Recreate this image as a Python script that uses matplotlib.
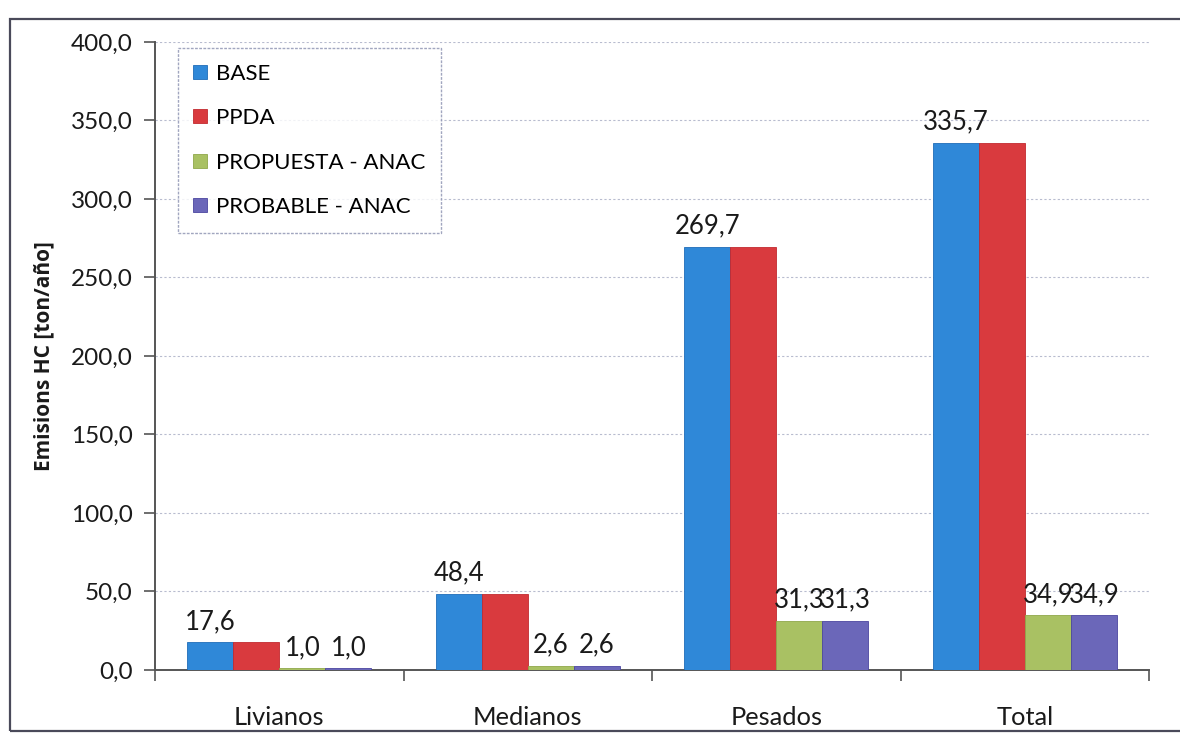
import matplotlib
matplotlib.use('Agg')
import matplotlib.pyplot as plt
import numpy as np
from matplotlib.patches import Rectangle

plt.rcParams['font.family'] = ['Lato', 'DejaVu Sans']

# categories and series (ton/año)
categories = ['Livianos', 'Medianos', 'Pesados', 'Total']
series_names = ['BASE', 'PPDA', 'PROPUESTA - ANAC', 'PROBABLE - ANAC']
base = [17.6, 48.4, 269.7, 335.7]
ppda = [17.6, 48.4, 269.7, 335.7]
propuesta = [1.0, 2.6, 31.3, 34.9]
probable = [1.0, 2.6, 31.3, 34.9]
# which series carry value labels
labelled = [True, False, True, True]

colors = ['#2f88d8', '#d93a3e', '#a9c163', '#6b67b9']
edges = ['#1f6cb8', '#c22a30', '#8fa84a', '#4b46a0']

fig = plt.figure(figsize=(11.8, 7.34), dpi=100)
ax = fig.add_axes([0.1314, 0.0872, 0.8424, 0.8556])

# outer chart frame
fig.patches.append(Rectangle((10 / 1180, 3 / 734), 1.2, 1 - 22 / 734,
                             transform=fig.transFigure, fill=False,
                             edgecolor='#4a4a5a', linewidth=1.6, zorder=0))

x = np.arange(len(categories)) + 0.5
w = 0.185
data = [base, ppda, propuesta, probable]
for i, (vals, name) in enumerate(zip(data, series_names)):
    pos = x + (i - 1.5) * w
    ax.bar(pos, vals, width=w, color=colors[i], edgecolor=edges[i],
           linewidth=0.6, label=name, zorder=3)
    if labelled[i]:
        for px, v in zip(pos, vals):
            ax.annotate(f'{v:.1f}'.replace('.', ','), (px, v),
                        xytext=(0, 6), textcoords='offset points',
                        ha='center', va='bottom', fontsize=18.5,
                        color='#1a1a1a', zorder=4)

ax.set_xlim(0, 4)
ax.set_ylim(0, 400)
ax.set_yticks(np.arange(0, 401, 50))
ax.set_yticklabels([f'{t:.1f}'.replace('.', ',') for t in np.arange(0, 401, 50)],
                   fontsize=17.5, color='#1a1a1a')
ax.yaxis.grid(True, color='#b8bccf', linestyle=(0, (2, 2)), linewidth=0.8, zorder=0)

# category boundaries as ticks, names as minor labels
ax.set_xticks(np.arange(0, 5))
ax.set_xticklabels([])
ax.set_xticks(x, minor=True)
ax.set_xticklabels(categories, minor=True, fontsize=18.3, color='#1a1a1a')
ax.tick_params(axis='x', which='minor', length=0, pad=26)
ax.tick_params(axis='x', which='major', length=8, width=1.2, color='#555555')
ax.tick_params(axis='y', length=8, width=1.2, color='#555555', pad=8)

for s in ['top', 'right']:
    ax.spines[s].set_visible(False)
for s in ['left', 'bottom']:
    ax.spines[s].set_color('#555555')
    ax.spines[s].set_linewidth(1.4)

ax.set_ylabel('Emisions HC [ton/año]', fontsize=15, fontweight='bold',
              family=['Open Sans', 'DejaVu Sans'], color='#1a1a1a', labelpad=12)

leg = ax.legend(loc='upper left', bbox_to_anchor=(0.023, 0.99), fontsize=16,
                frameon=True, fancybox=False, handlelength=0.6, handleheight=0.6,
                handletextpad=0.4, labelspacing=1.1, borderpad=0.7,
                borderaxespad=0)
leg.get_frame().set_edgecolor('#8a90b0')
leg.get_frame().set_linewidth(1.0)
leg.get_frame().set_linestyle((0, (2, 1)))

fig.savefig('out.png', dpi=100)
